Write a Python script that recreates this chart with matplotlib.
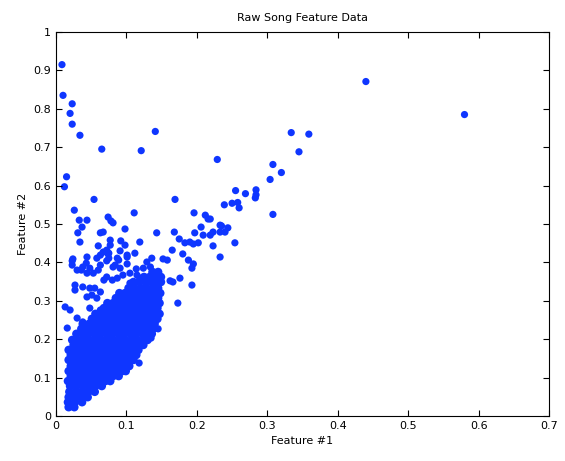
import numpy as np
import matplotlib
matplotlib.use('Agg')
import matplotlib.pyplot as plt

# isolated points
out_x = [0.0085, 0.010, 0.023, 0.020, 0.023, 0.034, 0.065, 0.121, 0.141, 0.229,
         0.015, 0.012, 0.054, 0.169, 0.026, 0.111, 0.196, 0.440, 0.580,
         0.334, 0.359, 0.345, 0.308, 0.320, 0.304, 0.255, 0.269, 0.284, 0.284,
         0.283, 0.308, 0.239, 0.250, 0.258, 0.260]
out_y = [0.915, 0.835, 0.813, 0.788, 0.760, 0.731, 0.695, 0.691, 0.741, 0.668,
         0.623, 0.597, 0.564, 0.564, 0.536, 0.529, 0.529, 0.871, 0.785,
         0.738, 0.734, 0.688, 0.655, 0.634, 0.616, 0.587, 0.579, 0.589, 0.576,
         0.568, 0.525, 0.550, 0.554, 0.556, 0.542]

# scattered points around the dense cluster
mid_x = [0.033, 0.044, 0.037, 0.031, 0.034, 0.074, 0.078, 0.081, 0.098, 0.063,
         0.067, 0.119, 0.060, 0.077, 0.077, 0.072, 0.067, 0.075, 0.092, 0.098,
         0.091, 0.101, 0.112, 0.024, 0.044, 0.058, 0.063, 0.075, 0.087, 0.143,
         0.168, 0.136, 0.023, 0.030, 0.038, 0.048, 0.060, 0.063, 0.044, 0.053,
         0.081, 0.091, 0.072, 0.080, 0.087, 0.095, 0.105, 0.115, 0.124, 0.129,
         0.027, 0.027, 0.038, 0.048, 0.055, 0.063, 0.051, 0.044, 0.058, 0.068,
         0.105, 0.119, 0.114, 0.013, 0.020, 0.030, 0.038, 0.016, 0.048, 0.063,
         0.058, 0.072, 0.072, 0.036, 0.043, 0.074, 0.072, 0.089, 0.084, 0.101,
         0.101, 0.023,
         0.212, 0.216, 0.219, 0.206, 0.233, 0.244, 0.240, 0.233, 0.223, 0.219,
         0.209, 0.197, 0.175, 0.183, 0.190, 0.195, 0.202, 0.223, 0.254, 0.165,
         0.152, 0.158, 0.180, 0.233, 0.173, 0.193, 0.176, 0.166, 0.162, 0.134,
         0.188, 0.195, 0.193, 0.135, 0.145, 0.118, 0.235]
mid_y = [0.510, 0.510, 0.492, 0.477, 0.453, 0.518, 0.508, 0.503, 0.487, 0.477,
         0.479, 0.453, 0.443, 0.458, 0.445, 0.432, 0.427, 0.424, 0.456, 0.445,
         0.430, 0.419, 0.424, 0.409, 0.414, 0.411, 0.419, 0.411, 0.411, 0.477,
         0.479, 0.411, 0.393, 0.380, 0.388, 0.385, 0.380, 0.393, 0.372, 0.372,
         0.388, 0.385, 0.362, 0.354, 0.359, 0.367, 0.372, 0.367, 0.385, 0.401,
         0.341, 0.328, 0.336, 0.333, 0.333, 0.323, 0.315, 0.310, 0.307, 0.354,
         0.346, 0.359, 0.383, 0.284, 0.276, 0.255, 0.245, 0.229, 0.281, 0.276,
         0.263, 0.263, 0.245, 0.380, 0.398, 0.422, 0.404, 0.406, 0.393, 0.414,
         0.396, 0.404,
         0.523, 0.513, 0.513, 0.492, 0.497, 0.490, 0.479, 0.479, 0.479, 0.471,
         0.471, 0.477, 0.461, 0.451, 0.453, 0.448, 0.451, 0.443, 0.451, 0.432,
         0.409, 0.406, 0.422, 0.414, 0.294, 0.341, 0.359, 0.349, 0.352, 0.388,
         0.406, 0.396, 0.385, 0.203, 0.227, 0.138, 0.495]

# dense cluster, row by row (feature #2 level, feature #1 values)
core_y = [0.023, 0.036, 0.049, 0.063, 0.078, 0.091, 0.104, 0.117, 0.130, 0.146,
          0.159, 0.172, 0.185, 0.198, 0.214, 0.227, 0.240, 0.253, 0.266, 0.281,
          0.294, 0.307, 0.320, 0.333, 0.349, 0.362, 0.375]
core_x = [
    [0.018, 0.026],
    [0.017, 0.027, 0.037],
    [0.018, 0.027, 0.036, 0.045],
    [0.019, 0.028, 0.037, 0.046, 0.055],
    [0.020, 0.029, 0.038, 0.047, 0.056, 0.065],
    [0.017, 0.025, 0.034, 0.043, 0.052, 0.061, 0.070, 0.077],
    [0.021, 0.030, 0.038, 0.047, 0.055, 0.064, 0.072, 0.081, 0.089],
    [0.018, 0.026, 0.035, 0.044, 0.052, 0.061, 0.069, 0.078, 0.086, 0.094, 0.099],
    [0.021, 0.029, 0.037, 0.045, 0.054, 0.062, 0.071, 0.079, 0.088, 0.096, 0.104],
    [0.018, 0.026, 0.034, 0.043, 0.051, 0.060, 0.068, 0.077, 0.085, 0.094, 0.102, 0.110],
    [0.021, 0.029, 0.038, 0.046, 0.055, 0.063, 0.072, 0.080, 0.089, 0.097, 0.106, 0.114],
    [0.018, 0.026, 0.035, 0.043, 0.052, 0.060, 0.069, 0.077, 0.086, 0.094, 0.103, 0.111, 0.117],
    [0.025, 0.033, 0.042, 0.050, 0.059, 0.067, 0.076, 0.084, 0.093, 0.101, 0.110, 0.118, 0.124],
    [0.023, 0.031, 0.040, 0.048, 0.057, 0.065, 0.074, 0.082, 0.091, 0.099, 0.108, 0.116, 0.125, 0.130],
    [0.029, 0.038, 0.046, 0.055, 0.063, 0.072, 0.080, 0.089, 0.097, 0.106, 0.114, 0.123, 0.131, 0.136],
    [0.036, 0.045, 0.054, 0.062, 0.071, 0.079, 0.088, 0.096, 0.105, 0.113, 0.122, 0.130, 0.138],
    [0.038, 0.047, 0.055, 0.064, 0.072, 0.081, 0.089, 0.098, 0.106, 0.115, 0.123, 0.132, 0.140],
    [0.051, 0.060, 0.068, 0.077, 0.085, 0.094, 0.102, 0.111, 0.119, 0.128, 0.136, 0.144],
    [0.056, 0.064, 0.073, 0.081, 0.090, 0.098, 0.107, 0.115, 0.124, 0.132, 0.141, 0.147],
    [0.068, 0.077, 0.085, 0.094, 0.102, 0.111, 0.119, 0.128, 0.136, 0.144],
    [0.073, 0.081, 0.090, 0.098, 0.107, 0.115, 0.124, 0.132, 0.141, 0.147],
    [0.085, 0.094, 0.102, 0.111, 0.119, 0.128, 0.136, 0.145],
    [0.090, 0.098, 0.107, 0.115, 0.124, 0.132, 0.141, 0.148],
    [0.103, 0.111, 0.120, 0.128, 0.137, 0.145],
    [0.110, 0.118, 0.127, 0.135, 0.143, 0.149],
    [0.125, 0.133, 0.141, 0.149],
    [0.137, 0.145],
]

xs = list(out_x) + list(mid_x)
ys = list(out_y) + list(mid_y)
cx, cy = [], []
for yv, row in zip(core_y, core_x):
    cx += row
    cy += [yv] * len(row)

blue = '#0f36ff'
fig = plt.figure(figsize=(5.65, 4.61), dpi=100)
ax = fig.add_axes([0.0991, 0.0976, 0.8726, 0.833])
ax.scatter(cx, cy, s=38, color=blue, edgecolors='none')
ax.scatter(xs, ys, s=27, color=blue, edgecolors='none')

ax.set_xlim(0, 0.7)
ax.set_ylim(0, 1)
ax.set_xticks(np.arange(0, 0.71, 0.1))
ax.set_yticks(np.arange(0, 1.01, 0.1))
ax.set_xticklabels(['0', '0.1', '0.2', '0.3', '0.4', '0.5', '0.6', '0.7'])
ax.set_yticklabels(['0', '0.1', '0.2', '0.3', '0.4', '0.5', '0.6', '0.7', '0.8', '0.9', '1'])
ax.tick_params(direction='in', top=True, right=True, labelsize=8, length=4, width=0.8)
for sp in ax.spines.values():
    sp.set_linewidth(0.8)

ax.set_title('Raw Song Feature Data', fontsize=8, pad=8)
ax.set_xlabel('Feature #1', fontsize=8)
ax.set_ylabel('Feature #2', fontsize=8)

fig.savefig('out.png', dpi=100)
